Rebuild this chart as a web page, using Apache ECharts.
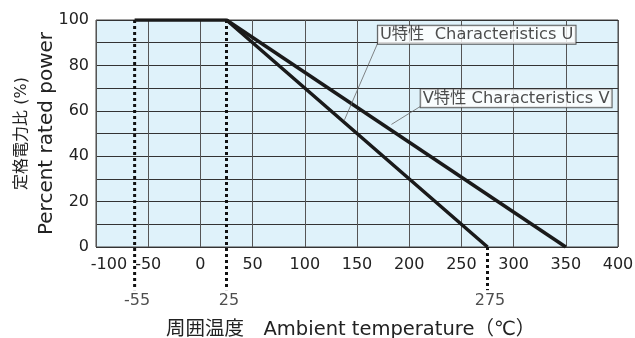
<!DOCTYPE html>
<html><head><meta charset="utf-8">
<script src="https://cdn.jsdelivr.net/npm/echarts@6/dist/echarts.min.js"></script>
<style>html,body{margin:0;padding:0;background:#fff}#c{width:635px;height:338px}</style>
</head><body><div id="c"></div>
<script>
// Data
const seriesU = [[-63, 100], [25, 100], [275, 0]];   // U特性 (steep)
const seriesV = [[25, 100], [350, 0]];              // V特性 (shallow)
const dottedX = [-63, 25, 275];
const dottedTop = [100, 100, 0];
const dottedBottom = -19;
const dottedLabels = ['-55', '25', '275'];
const xTicks = [-100, -50, 0, 50, 100, 150, 200, 250, 300, 350, 400];
const yTicks = [0, 20, 40, 60, 80, 100];
const leaderU = [[138, 56], [170, 90]];
const leaderV = [[183, 54], [211, 62]];
const labelU = 'U特性  Characteristics U';
const labelV = 'V特性 Characteristics V';

const font = '"DejaVu Sans", "Noto Sans CJK JP", sans-serif';
const series = [];
// dotted lines
dottedX.forEach((x, i) => {
  series.push({
    type: 'line', clip: false, symbol: 'none', silent: true, z: 3,
    data: [[x, dottedTop[i]], [x, dottedBottom]],
    lineStyle: { color: '#111', width: 3, type: [3, 3] }
  });
  series.push({
    type: 'scatter', clip: false, symbolSize: 0, silent: true,
    data: [[x, dottedBottom]],
    label: { show: true, position: 'bottom', distance: 3, formatter: dottedLabels[i],
      color: '#222', fontSize: 16, fontFamily: font, padding: [0, 0, 0, 5] }
  });
});
series.push({ type: 'line', symbol: 'none', data: seriesU, z: 4,
  lineStyle: { color: '#1a1a1a', width: 3.5 } });
series.push({ type: 'line', symbol: 'none', data: seriesV, z: 4,
  lineStyle: { color: '#1a1a1a', width: 3.5 } });
// leaders + boxes
[[leaderU, labelU], [leaderV, labelV]].forEach(([ld, txt]) => {
  series.push({ type: 'line', symbol: 'none', data: ld, z: 5,
    lineStyle: { color: '#666', width: 0.8 } });
  series.push({ type: 'scatter', symbolSize: 0, data: [ld[1]], z: 6,
    label: { show: true, position: [0, 1], align: 'left', verticalAlign: 'bottom',
      formatter: txt, color: '#222', fontSize: 16.3, fontFamily: font,
      backgroundColor: '#fff', borderColor: '#333', borderWidth: 1, padding: [0, 2, -1, 2], lineHeight: 19 } });
});

const chart = echarts.init(document.getElementById('c'), null, { renderer: 'canvas' });
chart.setOption({
  animation: false,
  grid: { left: 96, right: 17, top: 20, bottom: 91, show: true, containLabel: false, outerBoundsMode: 'none',
    backgroundColor: '#dff2fa', borderColor: '#444', borderWidth: 1 },
  title: { text: '周囲温度　Ambient temperature（℃）', left: 161, top: 315,
    textStyle: { fontSize: 19.5, fontWeight: 'normal', color: '#222', fontFamily: font } },
  xAxis: {
    type: 'value', min: xTicks[0], max: xTicks[xTicks.length - 1], interval: 50,
    axisLine: { show: false }, axisTick: { show: false },
    axisLabel: { color: '#222', fontSize: 16, fontFamily: font, margin: 10,
      formatter: v => !xTicks.includes(v) ? '' : (v === xTicks[0] ? '{f|' + v + '}' : String(v)),
      rich: { f: { fontSize: 16, fontFamily: font, color: '#222', padding: [0, 0, 0, 26] } } },
    splitLine: { show: true, lineStyle: { color: '#555', width: 1 } }
  },
  yAxis: {
    type: 'value', min: 0, max: 100, interval: 10,
    axisLine: { show: false }, axisTick: { show: false },
    axisLabel: { color: '#222', fontSize: 16, fontFamily: font, margin: 7,
      formatter: v => yTicks.includes(v) ? String(v) : '' },
    splitLine: { show: true, lineStyle: { color: '#333', width: 1 } },
    name: '{j|定格電力比 (%)}\n{e|Percent rated power}', nameLocation: 'middle', nameGap: 36, nameRotate: 90,
    nameMoveOverlap: false,
    nameTextStyle: { rich: {
      j: { fontSize: 16, fontFamily: font, color: '#222', lineHeight: 24 },
      e: { fontSize: 20, fontFamily: font, color: '#222', lineHeight: 26 } } }
  },
  series: series
});
</script></body></html>
